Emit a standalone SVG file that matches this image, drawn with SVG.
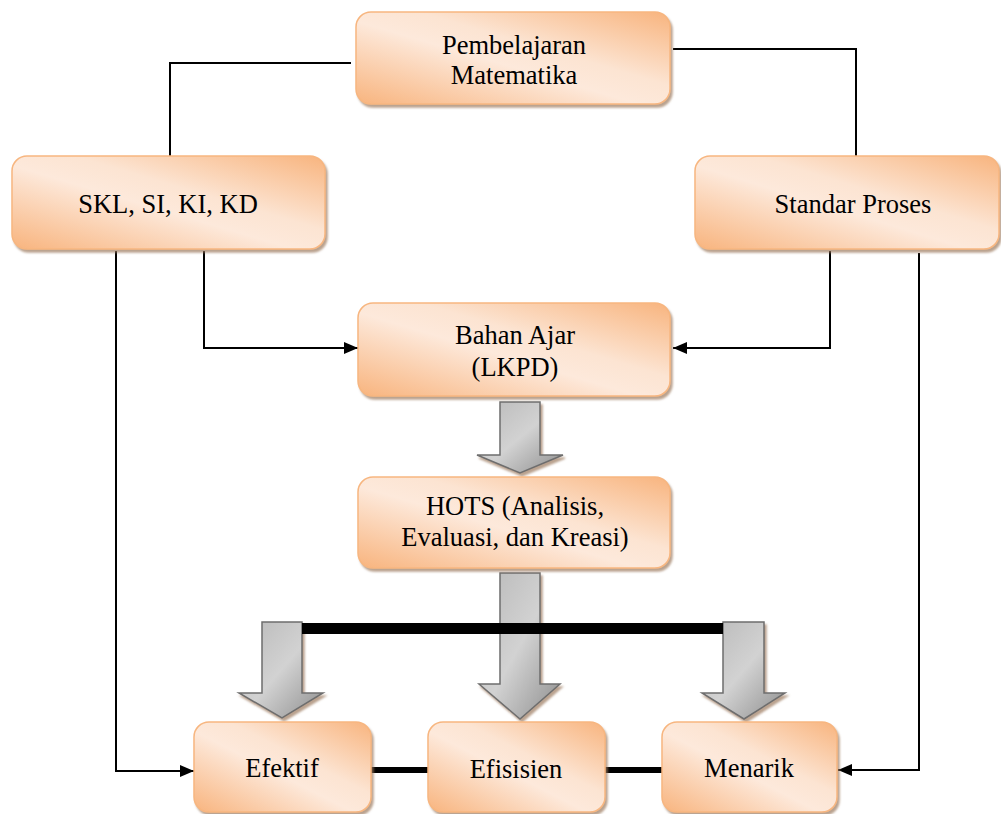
<svg xmlns="http://www.w3.org/2000/svg" width="1001" height="814" viewBox="0 0 1001 814">
<defs>
<linearGradient id="boxg" x1="0" y1="1" x2="1" y2="0">
<stop offset="0" stop-color="#F8B47E"/>
<stop offset="0.45" stop-color="#FDE9DB"/>
<stop offset="0.6" stop-color="#FCE4D2"/>
<stop offset="1" stop-color="#F8B47E"/>
</linearGradient>
<linearGradient id="arrg" x1="0" y1="0" x2="1" y2="1">
<stop offset="0" stop-color="#B8B8B8"/>
<stop offset="0.5" stop-color="#D2D2D2"/>
<stop offset="1" stop-color="#8E8E8E"/>
</linearGradient>
<filter id="sh" x="-10%" y="-10%" width="125%" height="130%">
<feGaussianBlur in="SourceAlpha" stdDeviation="1.2"/>
<feOffset dx="2" dy="3" result="b"/>
<feFlood flood-color="#9C7A5E" flood-opacity="0.7"/>
<feComposite in2="b" operator="in"/>
<feMerge><feMergeNode/><feMergeNode in="SourceGraphic"/></feMerge>
</filter>
<marker id="ah" markerWidth="14" markerHeight="12" refX="14" refY="6" orient="auto" markerUnits="userSpaceOnUse">
<path d="M0,0 L14,6 L0,12 Z" fill="#000"/>
</marker>
<style>
.box{fill:url(#boxg);stroke:#F7B680;stroke-width:1.5;filter:url(#sh)}
.t{font-family:'Liberation Serif','Times New Roman',serif;font-size:26.5px;fill:#000;text-anchor:middle}
.ln{fill:none;stroke:#000;stroke-width:2}
.thk{fill:none;stroke:#000}
.ba{fill:url(#arrg);stroke:#6E6E6E;stroke-width:1.5;filter:url(#sh)}
</style>
</defs>

<g id="connectors">
<polyline class="ln" points="351,63 170,63 170,157"/>
<polyline class="ln" points="673,49 856,49 856,157"/>
<polyline class="ln" points="204,251 204,348 358,348" marker-end="url(#ah)"/>
<polyline class="ln" points="830,251 830,348 673,348" marker-end="url(#ah)"/>
<polyline class="ln" points="116,251 116,771 194,771" marker-end="url(#ah)"/>
<polyline class="ln" points="919,253 919,770 838,770" marker-end="url(#ah)"/>
<line class="thk" x1="371" y1="770" x2="429" y2="770" stroke-width="6"/>
<line class="thk" x1="605" y1="770" x2="663" y2="770" stroke-width="6"/>
<path id="arrow1" class="ba" d="M500,402 L540,402 L540,455 L563,455 L520,473 L477,455 L500,455 Z"/>
<path id="arrow2" class="ba" d="M500,573 L540,573 L540,684 L560,684 L520,719 L479,684 L500,684 Z"/>
<path id="arrow3" class="ba" d="M262,622 L302,622 L302,693 L323,693 L282,718 L239,693 L262,693 Z"/>
<path id="arrow4" class="ba" d="M723,622 L764,622 L764,693 L785,693 L744,719 L702,693 L723,693 Z"/>
<rect x="302" y="623" width="421" height="11" fill="#000"/>
</g>

<g id="pembelajaran">
<rect class="box" x="356" y="12" width="314" height="92" rx="15"/>
<text class="t" x="514" y="54">Pembelajaran</text>
<text class="t" x="514" y="84">Matematika</text>
</g>
<g id="skl">
<rect class="box" x="12" y="156" width="313" height="93" rx="15"/>
<text class="t" x="168" y="213">SKL, SI, KI, KD</text>
</g>
<g id="standar">
<rect class="box" x="695" y="156" width="304" height="93" rx="15"/>
<text class="t" x="853" y="213">Standar Proses</text>
</g>
<g id="bahan">
<rect class="box" x="358" y="303" width="312" height="93" rx="15"/>
<text class="t" x="515" y="344">Bahan Ajar</text>
<text class="t" x="515" y="376">(LKPD)</text>
</g>
<g id="hots">
<rect class="box" x="358" y="477" width="312" height="91" rx="15"/>
<text class="t" x="515" y="515">HOTS (Analisis,</text>
<text class="t" x="515" y="546">Evaluasi, dan Kreasi)</text>
</g>
<g id="efektif">
<rect class="box" x="194" y="722" width="177" height="90" rx="15"/>
<text class="t" x="282" y="777">Efektif</text>
</g>
<g id="efisiensi">
<rect class="box" x="428" y="722" width="177" height="90" rx="15"/>
<text class="t" x="516" y="778">Efisisien</text>
</g>
<g id="menarik">
<rect class="box" x="662" y="722" width="175" height="90" rx="15"/>
<text class="t" x="749" y="777">Menarik</text>
</g>
</svg>
